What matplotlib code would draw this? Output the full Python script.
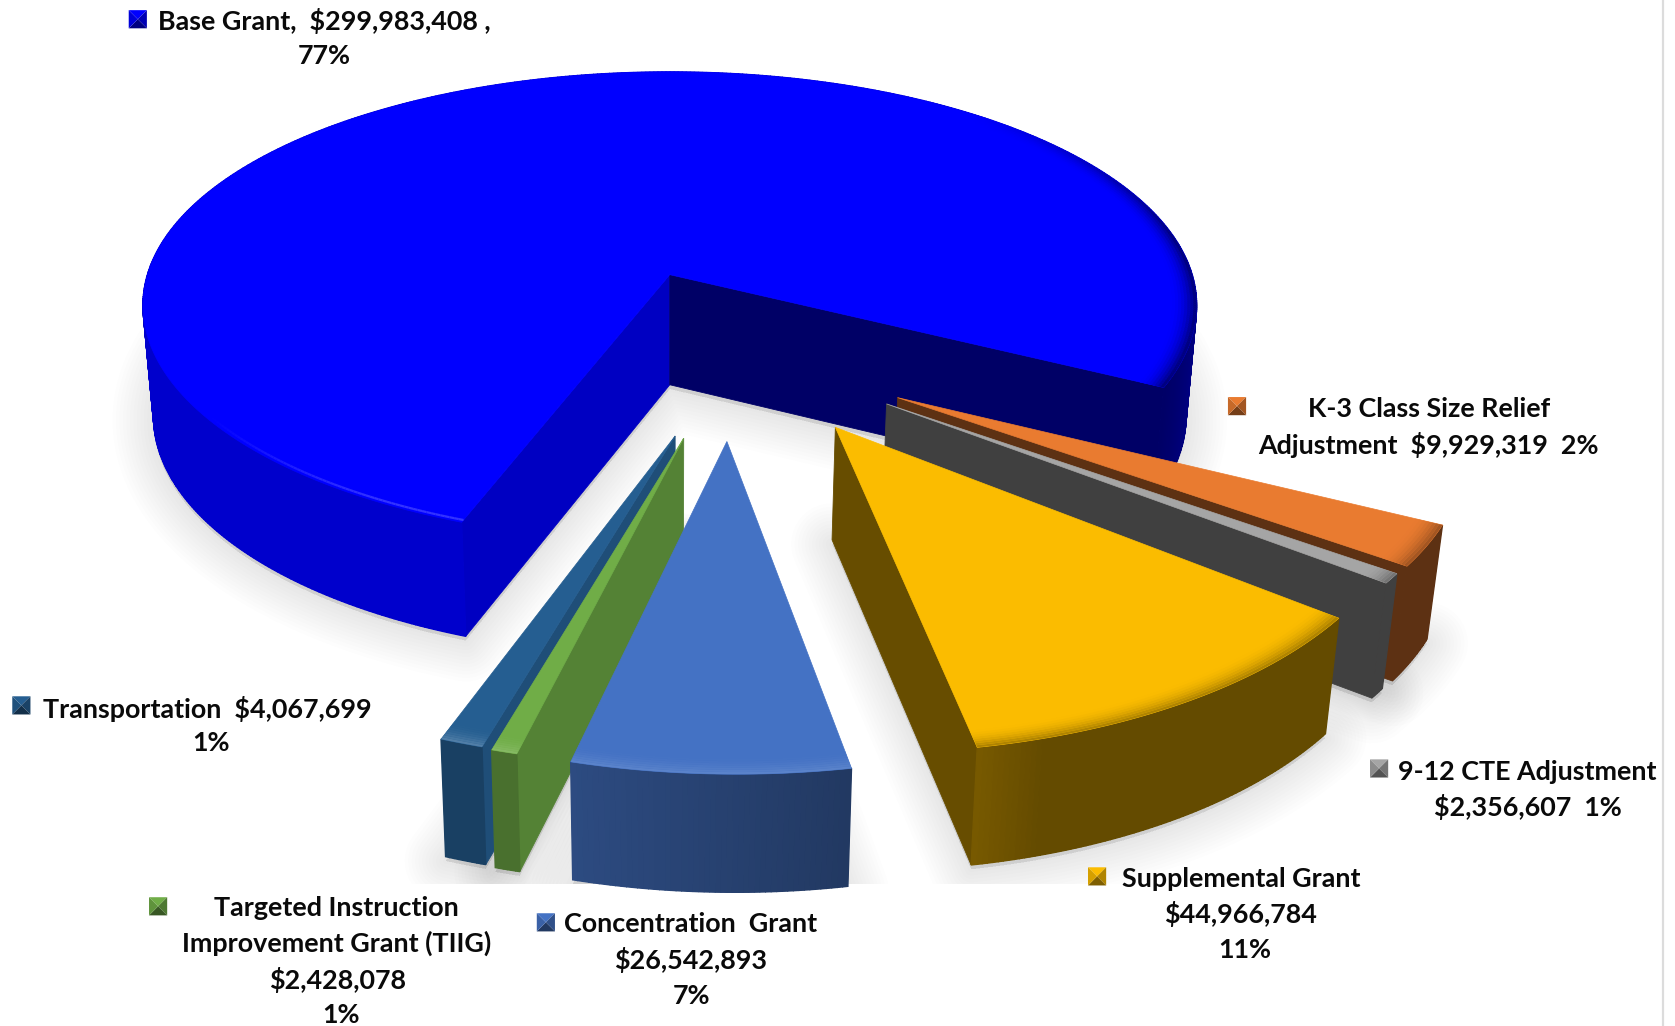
import numpy as np
import matplotlib
matplotlib.use("Agg")
import matplotlib.pyplot as plt
from matplotlib.colors import to_rgb
from matplotlib.patches import Polygon

# data, clockwise from the start angle
names = ["K-3", "CTE", "Supplemental", "Concentration", "TIIG", "Transportation", "Base"]
values = [9929319, 2356607, 44966784, 26542893, 2428078, 4067699, 299983408]
tops = ["#e97b30", "#a5a5a5", "#fbbc00", "#4472c4", "#70ad47", "#255e91", "#0000ff"]

# explosion of each slice in the ground plane, and its radius
explode_x = [0.408, 0.387, 0.292, 0.100, 0.0244, 0.0094, 0.0]
explode_y = [-0.503, -0.527, -0.615, -0.667, -0.655, -0.647, 0.0]
radius_x = [1.0, 1.0, 1.0, 0.995, 1.02, 1.02, 1.0]
radius_y = [1.0, 1.0, 1.035, 1.04, 1.03, 1.03, 1.015]

# darkening of the rim (start of arc, end of arc, where the ramp starts), the cut faces and the bevel
rim_a = [0.40, 0.39, 0.40, 0.50, 0.65, 0.68, 0.80]
rim_b = [0.40, 0.39, 0.48, 0.66, 0.65, 0.68, 0.40]
rim_ramp = [0.0, 0.0, 0.85, 0.0, 0.0, 0.0, 0.80]
cut_a = [0.40, 0.39, 0.41, 0.50, 0.75, 0.83, 0.76]
cut_b = [0.40, 0.39, 0.41, 0.60, 0.75, 0.83, 0.40]
bevel = [0.70, 0.70, 0.70, 1.12, 1.15, 1.2, 1.0]

# labels, one entry per line of text: (text, centre x, y)
labels = [
    ("Base Grant,  $299,983,408 ,", 304, 20), ("77%", 304, 52),
    ("K-3 Class Size Relief", 1338, 383), ("Adjustment  $9,929,319  2%", 1337, 416),
    ("Transportation  $4,067,699", 194, 663), ("1%", 198, 695),
    ("9-12 CTE Adjustment", 1430, 722), ("$2,356,607  1%", 1430, 755),
    ("Supplemental Grant", 1162, 822), ("$44,966,784", 1161, 855), ("11%", 1165, 889),
    ("Targeted Instruction", 315, 850), ("Improvement Grant (TIIG)", 315, 883),
    ("$2,428,078", 316, 917), ("1%", 319, 950),
    ("Concentration  Grant", 646, 865), ("$26,542,893", 646, 898), ("7%", 647, 932),
]
marker_x = [1158, 1291, 1027, 511, 148, 20, 129]
marker_y = [380, 719, 820, 863, 848, 660, 18]

CX, CY, A, B, P = 627, 257, 489, 214, 0.128
START = -27.2


def project(x, y):
    w = 1 + P * y
    return CX + A * x / w, CY - B * y / w


def lower(sx, sy):
    # same point on the bottom of the pie
    return CX + (sx - CX) * 0.98, sy + 103 + (sy - CY) * 0.016


def shade(color, f):
    c = np.array(to_rgb(color))
    if f <= 1:
        return tuple(c * f)
    return tuple(np.minimum(1, c * (2 - f) + (f - 1)))


def mix(c1, c2, t):
    return tuple(np.array(c1) * (1 - t) + np.array(c2) * t)


def side(p, q, r):
    return (q[0] - p[0]) * (r[1] - p[1]) - (q[1] - p[1]) * (r[0] - p[0])


def outline(i, t, r):
    # ground-plane circle of slice i, scaled by r, on the screen
    ry = np.where(np.sin(t) < 0, radius_y[i], 1.0)
    return project(explode_x[i] + r * radius_x[i] * np.cos(t),
                   explode_y[i] + r * ry * np.sin(t))


fig = plt.figure(figsize=(16.75, 10.26), dpi=100)
ax = fig.add_axes([0, 0, 1, 1])
ax.set_xlim(0, 1568)
ax.set_ylim(960, 0)
ax.axis("off")

plt.rcParams["font.family"] = ["Lato", "DejaVu Sans"]

spans = np.array(values) / sum(values) * 360
edges = START - np.concatenate([[0], np.cumsum(spans)])

geo = []
for i in range(len(values)):
    t = np.radians(np.linspace(edges[i], edges[i + 1], int(spans[i] * 2) + 3))
    ax0, ay0 = project(explode_x[i], explode_y[i])
    sx, sy = outline(i, t, 1.0)
    bx, by = lower(sx, sy)
    geo.append((t, ax0, ay0, sx, sy, bx, by))

# soft floor shadows first
for g in geo:
    ax0, ay0 = lower(g[1], g[2])
    pts = np.column_stack([np.r_[ax0, g[5]], np.r_[ay0, g[6]] + 4])
    for lw in range(4, 64, 5):
        ax.add_patch(Polygon(pts, closed=True, fc=(0, 0, 0, 0.008), ec=(0, 0, 0, 0.008),
                             lw=lw, joinstyle="round", zorder=1))
ax.fill([0, 1568, 1568, 0], [827, 827, 960, 960], color="white", lw=0, zorder=1.5)

order = [6, 0, 1, 2, 5, 4, 3]
z = 2
for i in order:
    t, ax0, ay0, sx, sy, bx, by = geo[i]
    top = tops[i]
    abx, aby = lower(ax0, ay0)
    mid = len(t) // 2
    body = (sx[mid], sy[mid])

    # cut faces that look towards the viewer
    for j, f in ((0, cut_a[i]), (-1, cut_b[i])):
        c = (sx[j], sy[j])
        if side((ax0, ay0), c, (abx, aby)) * side((ax0, ay0), c, body) < 0:
            ax.add_patch(Polygon([(ax0, ay0), c, (bx[j], by[j]), (abx, aby)], closed=True,
                                 fc=shade(top, f), ec=shade(top, f), lw=0.6, zorder=z))
    z += 1

    # rim, a solid band with small quads on top of it for the gradient
    ax.add_patch(Polygon(np.column_stack([np.r_[sx, bx[::-1]], np.r_[sy, by[::-1]]]), closed=True,
                         fc=shade(top, rim_a[i]), lw=0, zorder=z))
    for k in range(len(t) - 1):
        u = k / (len(t) - 1)
        u = max(0, (u - rim_ramp[i]) / (1 - rim_ramp[i]))
        f = rim_a[i] + (rim_b[i] - rim_a[i]) * u
        col = shade(top, f)
        ax.add_patch(Polygon([(sx[k], sy[k]), (sx[k + 1], sy[k + 1]),
                              (bx[k + 1], by[k + 1]), (bx[k], by[k])], closed=True,
                             fc=col, ec=col, lw=1.0, zorder=z))
    z += 1

    # top surface
    ax.add_patch(Polygon(np.column_stack([np.r_[ax0, sx], np.r_[ay0, sy]]), closed=True,
                         fc=top, ec=top, lw=0.5, zorder=z))
    z += 1

    # bevel along the outer edge
    radii = np.linspace(0.955, 1.0, 9)
    for n in range(len(radii) - 1):
        x0, y0 = outline(i, t, radii[n])
        x1, y1 = outline(i, t, radii[n + 1])
        mixv = ((n + 1) / (len(radii) - 1)) ** 2
        if i == 6:
            # the main slice only darkens on its right flank, fading out upwards
            deg = (np.degrees(t) + 720) % 360
            for k in np.where((deg < 50) | (deg > 325))[0][:-1]:
                d = deg[k] if deg[k] < 180 else deg[k] - 360
                fade = np.clip((50 - d) / 40, 0, 1)
                col = mix(to_rgb(top), shade(top, 0.5), mixv * fade)
                ax.add_patch(Polygon([(x0[k], y0[k]), (x0[k + 1], y0[k + 1]),
                                      (x1[k + 1], y1[k + 1]), (x1[k], y1[k])], closed=True,
                                     fc=col, ec=col, lw=0.3, zorder=z))
        else:
            col = mix(to_rgb(top), shade(top, bevel[i]), mixv)
            ax.add_patch(Polygon(np.column_stack([np.r_[x0, x1[::-1]], np.r_[y0, y1[::-1]]]),
                                 closed=True, fc=col, lw=0, zorder=z))
    if i == 6:
        # thin highlight along the front left of the main slice
        x0, y0 = outline(i, t, 0.992)
        deg = (np.degrees(t) + 720) % 360
        for k in np.where((deg > 215) & (deg < 255))[0][:-1]:
            fade = np.clip((deg[k] - 215) / 25, 0, 1)
            ax.plot(x0[k:k + 2], y0[k:k + 2], color=mix(to_rgb(top), (0.2, 0.2, 1.0), fade),
                    lw=1.6, solid_capstyle="butt", zorder=z)
    z += 1

# legend keys: little pyramids
for i in range(len(values)):
    mx, my, h = marker_x[i], marker_y[i], 8.5
    corners = [(mx - h, my - h), (mx + h, my - h), (mx + h, my + h), (mx - h, my + h)]
    for k, f in enumerate((1.0, 0.7, 0.5, 0.85)):
        ax.add_patch(Polygon([corners[k], corners[(k + 1) % 4], (mx, my)], closed=True,
                             fc=shade(tops[i], f), lw=0, zorder=50))

for s, x, y in labels:
    ax.text(x, y, s, ha="center", va="center", fontsize=19.4, fontweight="bold",
            color="#0a0a0a", zorder=60)

# faint rule near the right edge of the image
ax.plot([1556.5, 1556.5], [0, 960], color="#dcdcdc", lw=1.6, zorder=1.6)

fig.savefig("out.png", dpi=100, facecolor="white")
